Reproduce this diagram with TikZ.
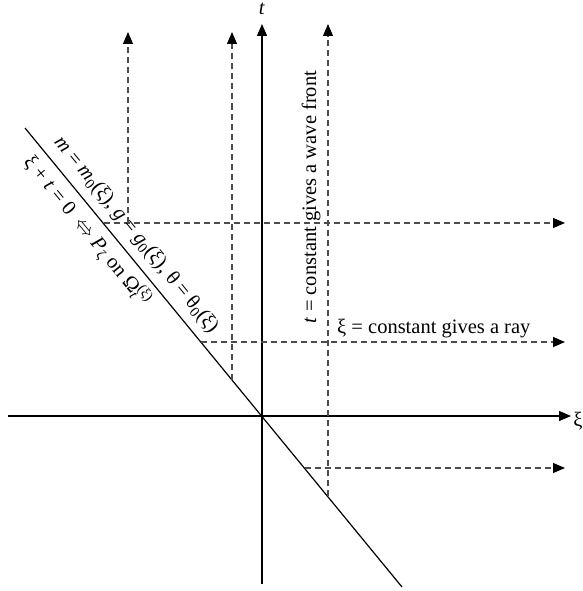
\documentclass[tikz,border=0pt]{standalone}
\usepackage{fontspec}
\setmainfont{Liberation Serif}
\usetikzlibrary{arrows.meta}
\begin{document}
\begin{tikzpicture}[x=1pt,y=-1pt,
  tip/.style={-{Triangle[length=12pt,width=10pt,color=black]}},
  axis/.style={line width=1.3pt, tip},
  guide/.style={line width=1.1pt, draw=black!70, dash pattern=on 6pt off 4pt, tip},
  lbl/.style={font=\fontsize{20.5}{24}\selectfont, inner sep=0pt},
]
\useasboundingbox (0,0) rectangle (582,591);
% axes
\coordinate (xl) at (8,416);  \coordinate (xr) at (571,416);
\coordinate (tb) at (262,584); \coordinate (tt) at (262,24);
\draw[axis] (xl) -- (xr);
\draw[axis] (tb) -- (tt);
\node[lbl] (tlab) at (262,9) {\textit{t}};
\node[lbl] (xilab) at (578,421) {ξ};
% diagonal
\coordinate (dA) at (25,128); \coordinate (dB) at (402,587);
\draw[line width=1.2pt] (dA) -- (dB);
% dashed guides
\coordinate (h1s) at (103.5,223); \coordinate (h1e) at (565,223);
\coordinate (v1s) at (128,223);   \coordinate (v1e) at (128,32);
\coordinate (v2s) at (232,379.5); \coordinate (v2e) at (232,32);
\coordinate (h2s) at (201.2,342); \coordinate (h2e) at (565,342);
\coordinate (v3s) at (328,496.4); \coordinate (v3e) at (328,24);
\coordinate (h3s) at (304.7,468); \coordinate (h3e) at (565,468);
\draw[guide] (h1s) -- (h1e);
\draw[guide] (v1s) -- (v1e);
\draw[guide] (v2s) -- (v2e);
\draw[guide] (h2s) -- (h2e);
\draw[guide] (v3s) -- (v3e);
\draw[guide] (h3s) -- (h3e);
% labels
\node[lbl, rotate=90] (wave) at (311,197) {\textit{t} = constant gives a wave front};
\node[lbl, anchor=base west] (ray) at (337,333) {ξ = constant gives a ray};
\node[lbl, rotate=-50.6] (upper) at (136,235) {\textit{m} = \textit{m}\textsubscript{0}(ξ), \textit{g} = \textit{g}\textsubscript{0}(ξ), θ = θ\textsubscript{0}(ξ)};
\node[lbl, rotate=-50.6] (lower) at (87,231) {ξ + \textit{t} = 0 \ $\Leftrightarrow$ \textit{P}\textsubscript{ζ} on Ω\rlap{\textsubscript{\textit{t}}}\textsuperscript{(ξ)}};
\end{tikzpicture}
\end{document}
